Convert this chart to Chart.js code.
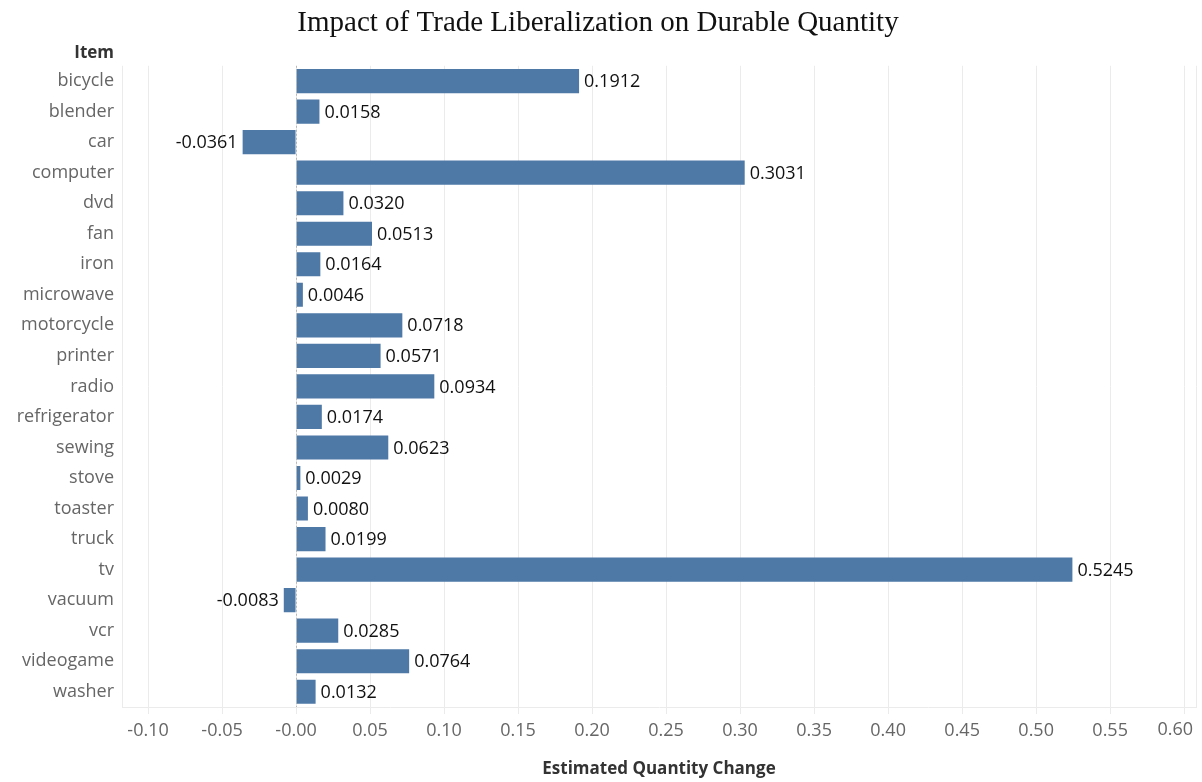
<!DOCTYPE html>
<html>
<head>
<meta charset="utf-8">
<script src="https://cdn.jsdelivr.net/npm/chart.js@4.4.1/dist/chart.umd.min.js"></script>
<style>
  html, body { margin: 0; padding: 0; background: #fff; }
  #wrap { width: 1202px; height: 782px; position: relative; }
</style>
</head>
<body>
<div id="wrap"><canvas id="chart"></canvas></div>
<script>
const items = ['bicycle', 'blender', 'car', 'computer', 'dvd', 'fan', 'iron', 'microwave',
  'motorcycle', 'printer', 'radio', 'refrigerator', 'sewing', 'stove', 'toaster', 'truck',
  'tv', 'vacuum', 'vcr', 'videogame', 'washer'];
const quantityChange = [0.1912, 0.0158, -0.0361, 0.3031, 0.0320, 0.0513, 0.0164, 0.0046,
  0.0718, 0.0571, 0.0934, 0.0174, 0.0623, 0.0029, 0.0080, 0.0199,
  0.5245, -0.0083, 0.0285, 0.0764, 0.0132];
const xTicks = [-0.10, -0.05, 0, 0.05, 0.10, 0.15, 0.20, 0.25, 0.30, 0.35, 0.40, 0.45, 0.50, 0.55, 0.60];

const sans = '"Open Sans", "Noto Sans", sans-serif';
const gridColor = '#ebebeb';
const lastTick = xTicks[xTicks.length - 1];
const fmt = v => (Math.abs(v) < 1e-9 ? '-0.00' : v.toFixed(2));

// value labels, dashed zero line, "Item" header, frame lines
const extras = {
  id: 'extras',
  beforeDatasetsDraw(chart) {
    const { ctx, chartArea } = chart;
    ctx.save();
    ctx.strokeStyle = gridColor;
    ctx.lineWidth = 1;
    [chartArea.left, chartArea.right].forEach(x => {
      ctx.beginPath();
      ctx.moveTo(Math.round(x) + 0.5, chartArea.top);
      ctx.lineTo(Math.round(x) + 0.5, chartArea.bottom);
      ctx.stroke();
    });
    ctx.restore();
  },
  afterDatasetsDraw(chart) {
    const { ctx, chartArea } = chart;
    const xs = chart.scales.x;
    const meta = chart.getDatasetMeta(0);
    ctx.save();
    // zero line
    const x0 = Math.round(xs.getPixelForValue(0)) + 0.5;
    ctx.strokeStyle = '#b8b8b8';
    ctx.setLineDash([2, 2]);
    ctx.beginPath();
    ctx.moveTo(x0, chartArea.top);
    ctx.lineTo(x0, chartArea.bottom);
    ctx.stroke();
    ctx.setLineDash([]);
    // value labels
    ctx.font = '18px ' + sans;
    ctx.fillStyle = '#111';
    ctx.textBaseline = 'middle';
    meta.data.forEach((bar, i) => {
      const v = quantityChange[i];
      const txt = v.toFixed(4);
      if (v >= 0) {
        ctx.textAlign = 'left';
        ctx.fillText(txt, bar.x + 5, bar.y + 1);
      } else {
        ctx.textAlign = 'right';
        ctx.fillText(txt, bar.x - 5, bar.y + 1);
      }
    });
    // last x tick label, kept inside the chart like the original
    ctx.font = '18px ' + sans;
    ctx.fillStyle = '#666';
    ctx.textAlign = 'right';
    ctx.textBaseline = 'top';
    const xb = xs.getLabelItems ? null : null;
    ctx.fillText(fmt(lastTick), chartArea.right - 3, chartArea.bottom + 7 + 6 + 1);
    // header
    ctx.font = 'bold 17px ' + sans;
    ctx.fillStyle = '#333';
    ctx.textAlign = 'right';
    ctx.textBaseline = 'middle';
    ctx.fillText('Item', 114, 53);
    ctx.restore();
  }
};

new Chart(document.getElementById('chart'), {
  type: 'bar',
  data: {
    labels: items,
    datasets: [{
      data: quantityChange,
      backgroundColor: '#4e79a7',
      barPercentage: 0.79,
      categoryPercentage: 1
    }]
  },
  plugins: [extras],
  options: {
    indexAxis: 'y',
    responsive: true,
    maintainAspectRatio: false,
    animation: false,
    layout: { padding: { left: 0, right: 6, top: 0, bottom: 0 } },
    plugins: {
      legend: { display: false },
      tooltip: { enabled: false },
      title: {
        display: true,
        text: 'Impact of Trade Liberalization on Durable Quantity',
        color: '#111',
        font: { family: '"Liberation Serif", "Times New Roman", serif', size: 29, weight: 'normal' },
        padding: { top: 6, bottom: 25 }
      }
    },
    scales: {
      x: {
        type: 'linear',
        min: -0.1176,
        max: 0.608,
        afterBuildTicks(scale) {
          scale.ticks = xTicks.map(v => ({ value: v }));
        },
        afterFit(scale) {
          scale.height = 75;
          scale.paddingRight = 0;
        },
        ticks: {
          color: '#666',
          font: { family: sans, size: 18 },
          padding: 6,
          callback: v => (Math.abs(v - lastTick) < 1e-9 ? '' : fmt(v))
        },
        grid: { color: gridColor, tickColor: gridColor, tickLength: 7 },
        border: { display: true, color: gridColor },
        title: {
          display: true,
          text: 'Estimated Quantity Change',
          color: '#333',
          font: { family: sans, size: 17, weight: 'bold' },
          padding: { top: 0, bottom: 3 }
        }
      },
      y: {
        afterFit(scale) { scale.width = 122; },
        ticks: {
          color: '#666',
          font: { family: sans, size: 18 },
          padding: 0,
          autoSkip: false
        },
        grid: { display: false },
        border: { display: false }
      }
    }
  }
});
</script>
</body>
</html>
